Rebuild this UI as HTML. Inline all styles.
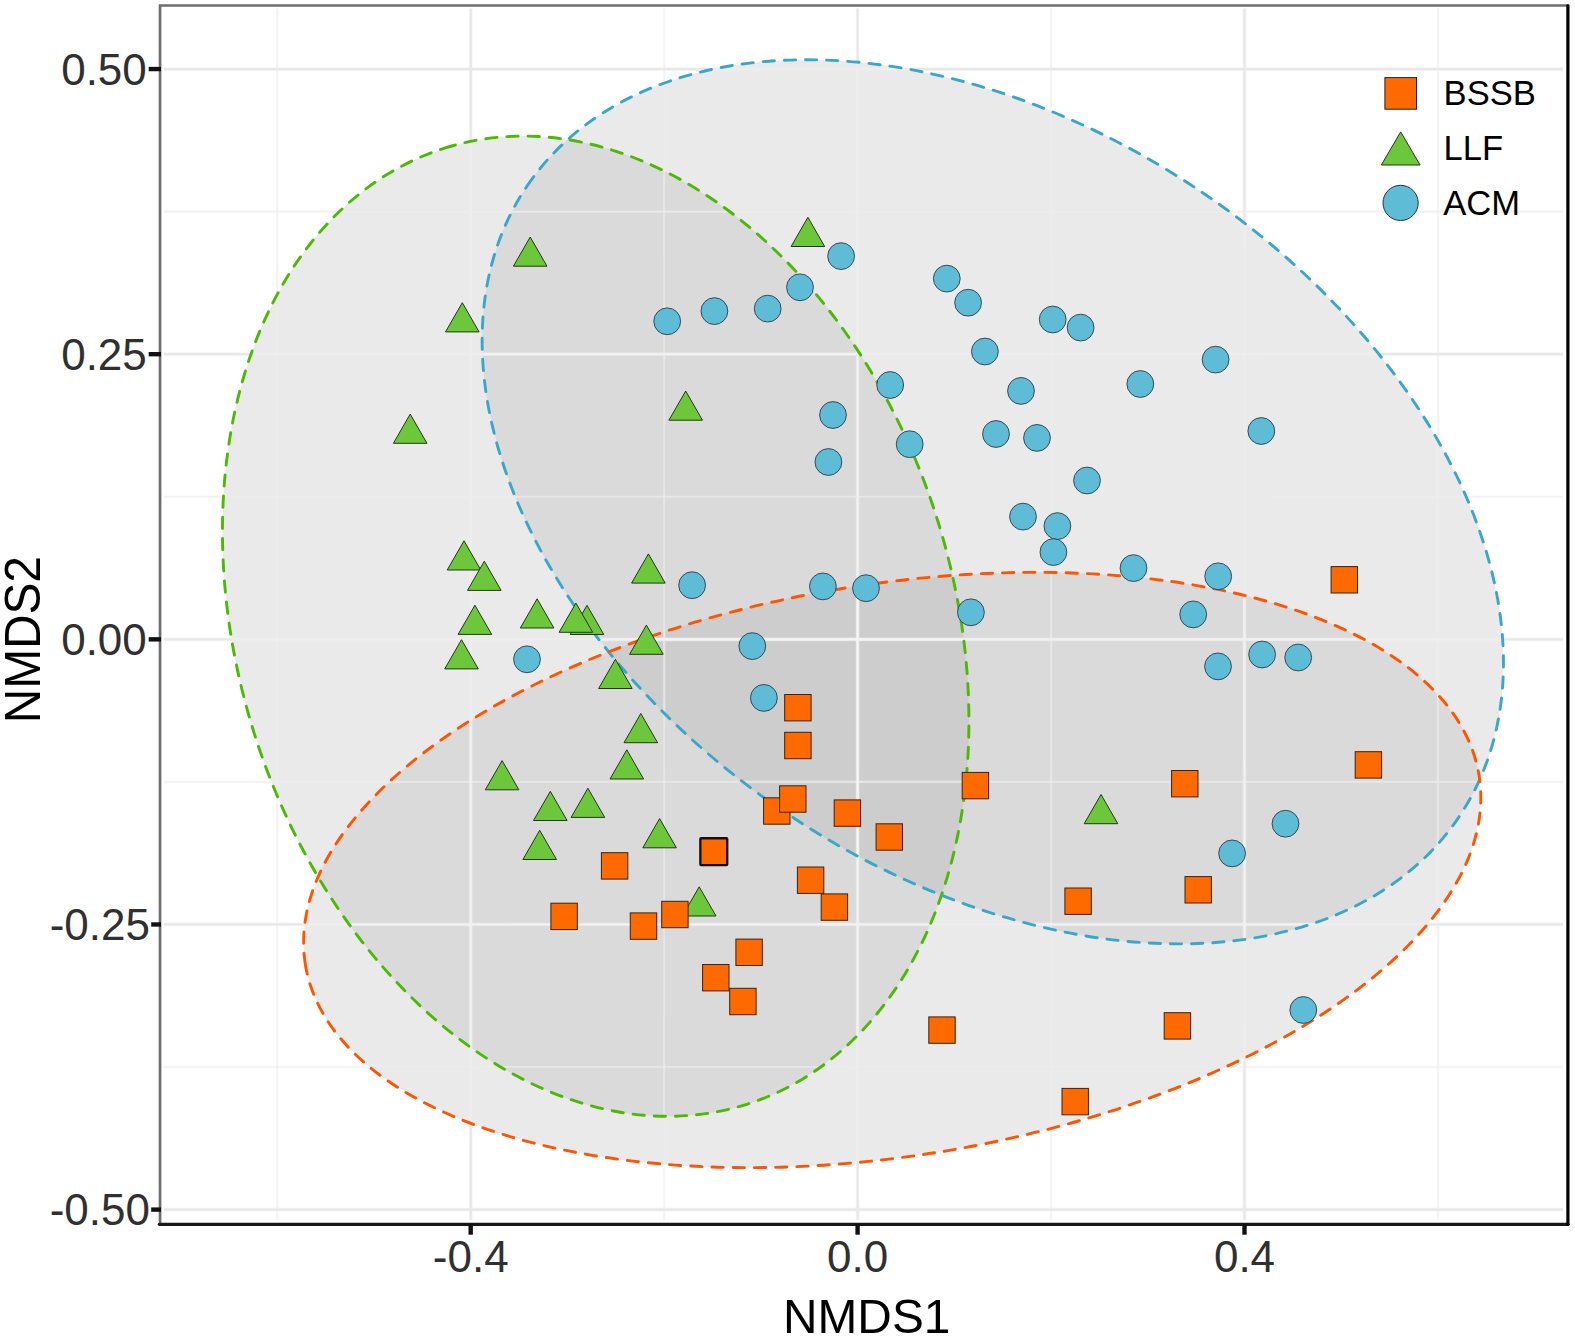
<!DOCTYPE html>
<html lang="en"><head><meta charset="utf-8"><title>NMDS ordination</title>
<style>html,body{margin:0;padding:0;background:#fff}svg{display:block}</style></head>
<body>
<svg width="1575" height="1339" viewBox="0 0 1575 1339">
<rect width="1575" height="1339" fill="#fff"/>
<g fill="#a6a6a6" fill-opacity="0.24" stroke="none">
<ellipse cx="595.7" cy="626.2" rx="501.4" ry="357.9" transform="rotate(-107.55 595.7 626.2)"/>
<ellipse cx="992.8" cy="501.8" rx="562.7" ry="373.6" transform="rotate(-145.83 992.8 501.8)"/>
<ellipse cx="892.2" cy="870.0" rx="594.4" ry="285.9" transform="rotate(170.86 892.2 870.0)"/>
</g>
<defs>
<g id="gl" fill="none">
<path d="M277.25 8.5L277.25 1220" stroke-width="2.6" stroke-opacity="0.28"/>
<path d="M277.25 8.5L277.25 1220" stroke-width="1.1" stroke-opacity="0.45"/>
<path d="M470.7 8.5L470.7 1220" stroke-width="3.7" stroke-opacity="0.4"/>
<path d="M470.7 8.5L470.7 1220" stroke-width="2.2"/>
<path d="M664.15 8.5L664.15 1220" stroke-width="2.6" stroke-opacity="0.28"/>
<path d="M664.15 8.5L664.15 1220" stroke-width="1.1" stroke-opacity="0.45"/>
<path d="M857.6 8.5L857.6 1220" stroke-width="3.7" stroke-opacity="0.4"/>
<path d="M857.6 8.5L857.6 1220" stroke-width="2.2"/>
<path d="M1051.05 8.5L1051.05 1220" stroke-width="2.6" stroke-opacity="0.28"/>
<path d="M1051.05 8.5L1051.05 1220" stroke-width="1.1" stroke-opacity="0.45"/>
<path d="M1244.5 8.5L1244.5 1220" stroke-width="3.7" stroke-opacity="0.4"/>
<path d="M1244.5 8.5L1244.5 1220" stroke-width="2.2"/>
<path d="M1437.95 8.5L1437.95 1220" stroke-width="2.6" stroke-opacity="0.28"/>
<path d="M1437.95 8.5L1437.95 1220" stroke-width="1.1" stroke-opacity="0.45"/>
<path d="M164 69.05L1563 69.05" stroke-width="3.7" stroke-opacity="0.4"/>
<path d="M164 69.05L1563 69.05" stroke-width="2.2"/>
<path d="M164 211.62L1563 211.62" stroke-width="2.6" stroke-opacity="0.28"/>
<path d="M164 211.62L1563 211.62" stroke-width="1.1" stroke-opacity="0.45"/>
<path d="M164 354.19L1563 354.19" stroke-width="3.7" stroke-opacity="0.4"/>
<path d="M164 354.19L1563 354.19" stroke-width="2.2"/>
<path d="M164 496.76L1563 496.76" stroke-width="2.6" stroke-opacity="0.28"/>
<path d="M164 496.76L1563 496.76" stroke-width="1.1" stroke-opacity="0.45"/>
<path d="M164 639.33L1563 639.33" stroke-width="3.7" stroke-opacity="0.4"/>
<path d="M164 639.33L1563 639.33" stroke-width="2.2"/>
<path d="M164 781.9L1563 781.9" stroke-width="2.6" stroke-opacity="0.28"/>
<path d="M164 781.9L1563 781.9" stroke-width="1.1" stroke-opacity="0.45"/>
<path d="M164 924.47L1563 924.47" stroke-width="3.7" stroke-opacity="0.4"/>
<path d="M164 924.47L1563 924.47" stroke-width="2.2"/>
<path d="M164 1067.04L1563 1067.04" stroke-width="2.6" stroke-opacity="0.28"/>
<path d="M164 1067.04L1563 1067.04" stroke-width="1.1" stroke-opacity="0.45"/>
<path d="M164 1209.61L1563 1209.61" stroke-width="3.7" stroke-opacity="0.4"/>
<path d="M164 1209.61L1563 1209.61" stroke-width="2.2"/>
</g>
<clipPath id="cg"><ellipse cx="595.7" cy="626.2" rx="501.4" ry="357.9" transform="rotate(-107.55 595.7 626.2)"/></clipPath>
<clipPath id="cb"><ellipse cx="992.8" cy="501.8" rx="562.7" ry="373.6" transform="rotate(-145.83 992.8 501.8)"/></clipPath>
<clipPath id="co"><ellipse cx="892.2" cy="870.0" rx="594.4" ry="285.9" transform="rotate(170.86 892.2 870.0)"/></clipPath>
</defs>
<use href="#gl" stroke="#e8e8e8"/>
<g clip-path="url(#cg)" opacity="0.22"><use href="#gl" stroke="#fff"/></g>
<g clip-path="url(#cb)" opacity="0.22"><use href="#gl" stroke="#fff"/></g>
<g clip-path="url(#co)" opacity="0.22"><use href="#gl" stroke="#fff"/></g>
<g fill="none" stroke-width="2.9" stroke-linecap="round" stroke-dasharray="11.3 9.9">
<ellipse cx="595.7" cy="626.2" rx="501.4" ry="357.9" transform="rotate(-107.55 595.7 626.2)" stroke="#4db806"/>
<ellipse cx="992.8" cy="501.8" rx="562.7" ry="373.6" transform="rotate(-145.83 992.8 501.8)" stroke="#3aa7c9"/>
<ellipse cx="892.2" cy="870.0" rx="594.4" ry="285.9" transform="rotate(170.86 892.2 870.0)" stroke="#ff5500"/>
</g>
<g stroke="#2b3d44" stroke-width="0.9" fill="#5fbcd6">
<circle cx="667.2" cy="321.3" r="13.4"/>
<circle cx="714.4" cy="311.1" r="13.4"/>
<circle cx="767.7" cy="308.6" r="13.4"/>
<circle cx="800.0" cy="287.3" r="13.4"/>
<circle cx="841.1" cy="256.1" r="13.4"/>
<circle cx="946.8" cy="278.6" r="13.4"/>
<circle cx="968.1" cy="302.7" r="13.4"/>
<circle cx="1052.7" cy="319.5" r="13.4"/>
<circle cx="1080.6" cy="327.6" r="13.4"/>
<circle cx="984.9" cy="351.5" r="13.4"/>
<circle cx="890.2" cy="385" r="13.4"/>
<circle cx="1021" cy="390.9" r="13.4"/>
<circle cx="1140.3" cy="384" r="13.4"/>
<circle cx="833" cy="415" r="13.4"/>
<circle cx="996" cy="434" r="13.4"/>
<circle cx="1037" cy="437.9" r="13.4"/>
<circle cx="909.7" cy="444.2" r="13.4"/>
<circle cx="828.4" cy="462" r="13.4"/>
<circle cx="1087" cy="480.5" r="13.4"/>
<circle cx="1023" cy="516.6" r="13.4"/>
<circle cx="1057.4" cy="526.1" r="13.4"/>
<circle cx="1053.4" cy="552.1" r="13.4"/>
<circle cx="1133.5" cy="568.1" r="13.4"/>
<circle cx="822.9" cy="586.4" r="13.4"/>
<circle cx="866" cy="588.2" r="13.4"/>
<circle cx="970.9" cy="612.3" r="13.4"/>
<circle cx="1193.2" cy="614.4" r="13.4"/>
<circle cx="1215.6" cy="359.6" r="13.4"/>
<circle cx="1261.3" cy="431" r="13.4"/>
<circle cx="1218.2" cy="576.3" r="13.4"/>
<circle cx="1262.1" cy="654.5" r="13.4"/>
<circle cx="1298.2" cy="657.5" r="13.4"/>
<circle cx="1218.0" cy="666.4" r="13.4"/>
<circle cx="692.1" cy="585.2" r="13.4"/>
<circle cx="752.3" cy="646.1" r="13.4"/>
<circle cx="527" cy="659.3" r="13.4"/>
<circle cx="763.9" cy="697.9" r="13.4"/>
<circle cx="1285.5" cy="823.7" r="13.4"/>
<circle cx="1232.1" cy="853.4" r="13.4"/>
<circle cx="1303.3" cy="1010" r="13.4"/>
</g>
<g stroke="#24361a" stroke-width="1" fill="#6cc83a" stroke-linejoin="miter">
<path d="M530.2 237.00L547.0 266.20H513.4Z"/>
<path d="M462.3 302.70L479.1 331.90H445.5Z"/>
<path d="M807.9 217.30L824.7 246.50H791.1Z"/>
<path d="M410.2 414.10L427.0 443.30H393.4Z"/>
<path d="M685.7 391.00L702.5 420.20H668.9Z"/>
<path d="M464 540.80L480.8 570.00H447.2Z"/>
<path d="M484.3 561.20L501.1 590.40H467.5Z"/>
<path d="M648.4 553.90L665.2 583.10H631.6Z"/>
<path d="M474.9 605.20L491.7 634.40H458.1Z"/>
<path d="M537.1 598.80L553.9 628.00H520.3Z"/>
<path d="M587.0 605.30L603.8 634.50H570.2Z"/>
<path d="M575.9 603.10L592.7 632.30H559.1Z"/>
<path d="M646.4 625.10L663.2 654.30H629.6Z"/>
<path d="M461.5 639.70L478.3 668.90H444.7Z"/>
<path d="M615.4 659.30L632.2 688.50H598.6Z"/>
<path d="M640.8 713.50L657.6 742.70H624.0Z"/>
<path d="M626.8 749.80L643.6 779.00H610.0Z"/>
<path d="M502.1 760.60L518.9 789.80H485.3Z"/>
<path d="M550.3 791.30L567.1 820.50H533.5Z"/>
<path d="M587.9 788.20L604.7 817.40H571.1Z"/>
<path d="M659.6 818.60L676.4 847.80H642.8Z"/>
<path d="M539.7 830.30L556.5 859.50H522.9Z"/>
<path d="M699.2 886.80L716.0 916.00H682.4Z"/>
<path d="M1101 794.50L1117.8 823.70H1084.2Z"/>
</g>
<g stroke="#3a2210" stroke-width="1" fill="#ff6a00">
<rect x="1331.1" y="566.6" width="26.4" height="26.4"/>
<rect x="784.7" y="694.5" width="26.4" height="26.4"/>
<rect x="784.7" y="732.3" width="26.4" height="26.4"/>
<rect x="1355.2" y="751.7" width="26.4" height="26.4"/>
<rect x="962.2" y="772.4" width="26.4" height="26.4"/>
<rect x="1171.6" y="770.5" width="26.4" height="26.4"/>
<rect x="763.6" y="797.8" width="26.4" height="26.4"/>
<rect x="779.6" y="785.8" width="26.4" height="26.4"/>
<rect x="834.2" y="799.9" width="26.4" height="26.4"/>
<rect x="876.1" y="823.8" width="26.4" height="26.4"/>
<rect x="601.4" y="852.7" width="26.4" height="26.4"/>
<rect x="797.4" y="867.0" width="26.4" height="26.4"/>
<rect x="1185.0" y="876.6" width="26.4" height="26.4"/>
<rect x="1064.9" y="888.0" width="26.4" height="26.4"/>
<rect x="821.2" y="893.9" width="26.4" height="26.4"/>
<rect x="550.9" y="903.2" width="26.4" height="26.4"/>
<rect x="630.3" y="912.9" width="26.4" height="26.4"/>
<rect x="661.7" y="901.3" width="26.4" height="26.4"/>
<rect x="735.9" y="939.1" width="26.4" height="26.4"/>
<rect x="702.6" y="964.5" width="26.4" height="26.4"/>
<rect x="729.7" y="988.3" width="26.4" height="26.4"/>
<rect x="928.8" y="1016.9" width="26.4" height="26.4"/>
<rect x="1164.2" y="1012.7" width="26.4" height="26.4"/>
<rect x="1062.0" y="1088.4" width="26.4" height="26.4"/>
<rect x="700.35" y="838.25" width="26.9" height="26.9" stroke="#111" stroke-width="2.3" rx="0.8"/>
</g>
<path d="M160.05 1224.1V5.5H1567.5" fill="none" stroke="#6e6e6e" stroke-width="2.7"/>
<path d="M159.4 1224.3H1567.9" fill="none" stroke="#1a1a1a" stroke-width="3.3" stroke-linecap="round"/>
<path d="M1567.9 5.6V1224.3" fill="none" stroke="#000" stroke-width="3.2" stroke-linecap="round"/>
<g stroke="#111" stroke-width="4.4">
<line x1="148.7" y1="69.05" x2="161" y2="69.05"/>
<line x1="148.7" y1="354.19" x2="161" y2="354.19"/>
<line x1="148.7" y1="639.3299999999999" x2="161" y2="639.3299999999999"/>
<line x1="151.2" y1="924.4699999999999" x2="161" y2="924.4699999999999"/>
<line x1="151.2" y1="1209.61" x2="161" y2="1209.61"/>
<line x1="470.7" y1="1224.3" x2="470.7" y2="1234.7"/>
<line x1="857.6" y1="1224.3" x2="857.6" y2="1234.7"/>
<line x1="1244.5" y1="1224.3" x2="1244.5" y2="1234.7"/>
</g>
<g font-family="'Liberation Sans', Arial, sans-serif" font-size="44" fill="#303030">
<text x="146.8" y="84.85" text-anchor="end">0.50</text>
<text x="146.8" y="369.86" text-anchor="end">0.25</text>
<text x="146.8" y="654.88" text-anchor="end">0.00</text>
<text x="150.0" y="939.89" text-anchor="end">-0.25</text>
<text x="150.0" y="1224.91" text-anchor="end">-0.50</text>
<text x="470.7" y="1272" text-anchor="middle">-0.4</text>
<text x="857.6" y="1272" text-anchor="middle">0.0</text>
<text x="1244.5" y="1272" text-anchor="middle">0.4</text>
</g>
<g font-family="'Liberation Sans', Arial, sans-serif" font-size="47.8" fill="#000">
<text transform="translate(866.7 1333.2) scale(1 1.01)" text-anchor="middle">NMDS1</text>
<text transform="translate(39.9 639.7) rotate(-90) scale(1 1.04)" text-anchor="middle">NMDS2</text>
</g>
<rect x="1384.9" y="77.6" width="31.6" height="31.6" fill="#ff6a00" stroke="#222" stroke-width="1"/>
<path d="M1400.7 131.9L1420.1 165H1381.3Z" fill="#6cc83a" stroke="#24361a" stroke-width="1"/>
<circle cx="1400.6" cy="202.9" r="17.6" fill="#5fbcd6" stroke="#26343a" stroke-width="1"/>
<g font-family="'Liberation Sans', Arial, sans-serif" font-size="34.6" fill="#000">
<text x="1443.6" y="104.8">BSSB</text>
<text x="1443.6" y="160">LLF</text>
<text x="1443.3" y="214.8">ACM</text>
</g>
</svg>
</body></html>
